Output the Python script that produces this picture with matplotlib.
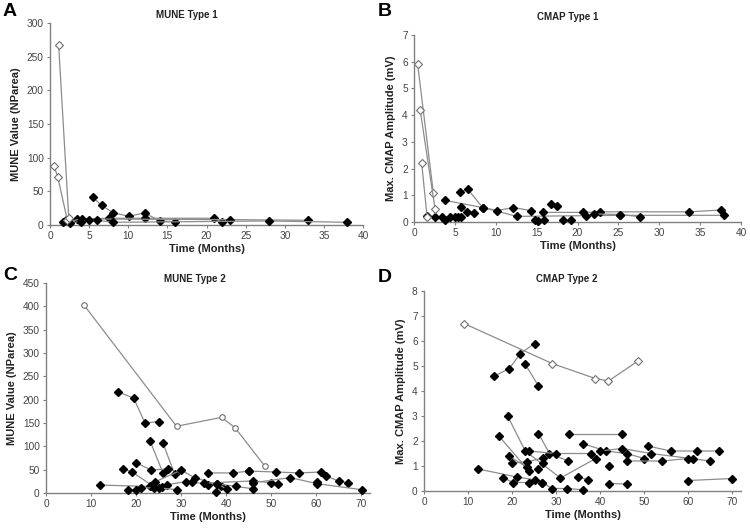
import matplotlib
matplotlib.use("Agg")
import matplotlib.pyplot as plt

plt.rcParams["font.family"] = ["Liberation Sans", "DejaVu Sans"]

# ---- panel A: MUNE type 1 (x = months, y = NParea) ----
a_open = [
  ([0.5, 1.0, 2.2], [88, 71, 8]),
  ([1.1, 2.4], [268, 10]),
]
a_filled = [
  ([5.5, 6.6, 8.1, 10.1, 12.1, 14, 16], [41, 29, 18, 13, 18, 6, 5]),
  ([2.0, 3.5, 7.5, 12.1, 21, 22], [7, 9, 10, 10, 10, 5]),
  ([1.7, 4.1, 23, 33], [4, 9, 8, 7]),
  ([2.6, 3.9, 5.0, 6.0, 8.1, 28, 38], [3, 5, 7, 7, 4, 6, 4]),
]

# ---- panel B: CMAP type 1 (mV) ----
b_open = [
  ([0.45, 2.36], [5.9, 1.1]),
  ([0.75, 2.57], [4.2, 0.5]),
  ([0.94, 1.6], [2.2, 0.2]),
]
b_filled = [
  ([3.8, 8.4, 12.6, 25.2, 37.9], [0.81, 0.54, 0.21, 0.25, 0.25]),
  ([5.6, 6.6, 8.4, 10.2, 12.1, 14.3], [1.13, 1.22, 0.54, 0.43, 0.54, 0.43]),
  ([15.8, 20.7, 22.8, 33.6, 37.6], [0.36, 0.36, 0.38, 0.38, 0.45]),
  ([16.7, 17.5], [0.66, 0.6]),
  ([1.55, 2.57, 3.4, 3.8, 4.4, 5.0, 5.4, 5.7], [0.21, 0.19, 0.19, 0.09, 0.2, 0.19, 0.2, 0.19]),
  ([5.8, 6.5, 7.3], [0.56, 0.38, 0.34]),
  ([14.8, 15.2, 15.9], [0.09, 0.04, 0.06]),
  ([18.2, 19.2], [0.09, 0.09]),
  ([21.1, 22.0, 25.2, 27.6], [0.21, 0.3, 0.28, 0.2]),
]

# ---- panel C: MUNE type 2 ----
c_open = [
  ([8.5, 29, 39, 42, 48.6], [402, 143, 162, 140, 58]),
]
c_filled = [
  ([16, 19.5, 22, 25], [217, 203, 150, 153]),
  ([23.1, 26], [112, 43]),
  ([26, 28.6], [107, 40]),
  ([20, 23.4, 27.2], [65, 49, 52]),
  ([17.1, 19.1, 23.6], [52, 45, 16]),
  ([24.3, 30, 33, 38.8], [24, 49, 33, 16]),
  ([12, 23.1, 25.8, 26.9, 31, 32.4, 36, 38.1, 42.2, 46.1], [17, 14, 13, 18, 24, 24, 18, 20, 14, 9]),
  ([18.2, 19.9, 21.2, 24, 25.1, 29.2], [7, 7, 11, 11, 11, 7]),
  ([36, 41.6, 45.1], [43, 43, 47]),
  ([45.1, 51.1, 56.3, 61.1, 62.2, 65, 67], [47, 45, 43, 45, 36, 26, 22]),
  ([35, 46.1, 50.1, 51.6], [21, 26, 22, 20]),
  ([46.1, 54.3, 60.2, 70.2], [22, 33, 20, 7]),
  ([38.1, 40.2], [20, 8]),
  ([37.7], [2]),
  ([60.2], [24]),
]

# ---- panel D: CMAP type 2 ----
d_open = [
  ([9.1, 29.1, 38.9, 41.9, 48.6], [6.7, 5.1, 4.5, 4.4, 5.2]),
]
d_filled = [
  ([16, 19.4, 21.9, 25.1], [4.6, 4.9, 5.5, 5.9]),
  ([22.9, 26], [5.1, 4.2]),
  ([19, 23, 31, 39], [3.0, 1.6, 0.52, 1.3]),
  ([17, 23.8], [2.2, 0.81]),
  ([26, 28.5, 32.8], [2.3, 1.5, 1.2]),
  ([33, 45], [2.3, 2.3]),
  ([23.8, 30, 37.9], [1.6, 1.5, 1.5]),
  ([36, 41.3, 46, 50], [1.9, 1.6, 1.5, 1.3]),
  ([40, 45, 51.6, 65], [1.6, 1.7, 1.5, 1.2]),
  ([50.8, 56, 62, 67], [1.8, 1.6, 1.6, 1.6]),
  ([46, 54, 60, 61], [1.2, 1.2, 1.3, 1.3]),
  ([42], [1.0]),
  ([35, 37.2], [0.56, 0.45]),
  ([42, 46], [0.3, 0.28]),
  ([60, 70], [0.42, 0.5]),
  ([12.3, 21.1, 25.1, 26.9], [0.88, 0.56, 0.45, 0.34]),
  ([17.9, 20.2, 23.9], [0.54, 0.34, 0.34]),
  ([26.9, 29, 32.5, 36], [0.34, 0.1, 0.1, 0.05]),
  ([20, 23.3, 27], [1.12, 1.16, 1.32]),
  ([19.2, 23.3], [1.41, 0.96]),
  ([26, 27], [0.88, 1.12]),
]

W, H = 750, 528

panels = [
  # letter, title, ylabel, open, filled, xlim, xticks, ylim, yticks,
  # axes box in pixels (left, top, right, bottom), title xy px, letter xy px, open marker
  ("A", "MUNE Type 1", "MUNE Value (NParea)", a_open, a_filled,
   (0, 40), range(0, 41, 5), (0, 300), range(0, 301, 50),
   (50, 23, 363, 225), (187, 15), (3, 12), "D"),
  ("B", "CMAP Type 1", "Max. CMAP Amplitude (mV)", b_open, b_filled,
   (0, 40), range(0, 41, 5), (0, 7), range(0, 8),
   (414, 35, 741, 222), (568, 17), (378, 12), "D"),
  ("C", "MUNE Type 2", "MUNE Value (NParea)", c_open, c_filled,
   (0, 72), range(0, 71, 10), (0, 450), range(0, 451, 50),
   (46, 283, 370, 493), (195, 279), (3, 276), "o"),
  ("D", "CMAP Type 2", "Max. CMAP Amplitude (mV)", d_open, d_filled,
   (0, 72), range(0, 71, 10), (0, 8), range(0, 9),
   (424, 291, 741, 491), (567, 279), (378, 277), "D"),
]

line_color = "#8c8c8c"
spine_color = "#808080"
text_color = "#222222"

fig = plt.figure(figsize=(7.5, 5.28), dpi=100)

for (letter, title, ylabel, open_s, filled_s, xlim, xticks, ylim, yticks,
     box, title_xy, letter_xy, omark) in panels:
  l, t, r, b = box
  ax = fig.add_axes([l / W, 1 - b / H, (r - l) / W, (b - t) / H])
  for xs, ys in filled_s:
    ax.plot(xs, ys, color=line_color, linewidth=0.9, marker="D", markersize=3.8,
            markerfacecolor="black", markeredgecolor="black", zorder=3, clip_on=False)
  for xs, ys in open_s:
    ax.plot(xs, ys, color=line_color, linewidth=0.9, marker=omark, markersize=4,
            markerfacecolor="white", markeredgecolor="#707070", markeredgewidth=0.8,
            zorder=4, clip_on=False)

  ax.set_xlim(*xlim)
  ax.set_ylim(*ylim)
  ax.set_xticks(list(xticks))
  ax.set_yticks(list(yticks))
  for side in ("top", "right"):
    ax.spines[side].set_visible(False)
  for side in ("left", "bottom"):
    ax.spines[side].set_color(spine_color)
    ax.spines[side].set_linewidth(1.0)
  ax.tick_params(axis="both", labelsize=7.3, colors=spine_color, labelcolor="#444444",
                 length=2.5, width=0.8, pad=2)
  ax.set_xlabel("Time (Months)", fontsize=8, fontweight="bold", color=text_color, labelpad=2)
  ax.set_ylabel(ylabel, fontsize=8, fontweight="bold", color=text_color, labelpad=4)

  fig.text(title_xy[0] / W, 1 - title_xy[1] / H, title, ha="center", va="center",
           fontsize=7, fontweight="bold", color=text_color)
  fig.text(letter_xy[0] / W, 1 - letter_xy[1] / H, letter, ha="left", va="center",
           fontsize=14, fontweight="bold", color="black")

fig.savefig("out.png", dpi=100)
